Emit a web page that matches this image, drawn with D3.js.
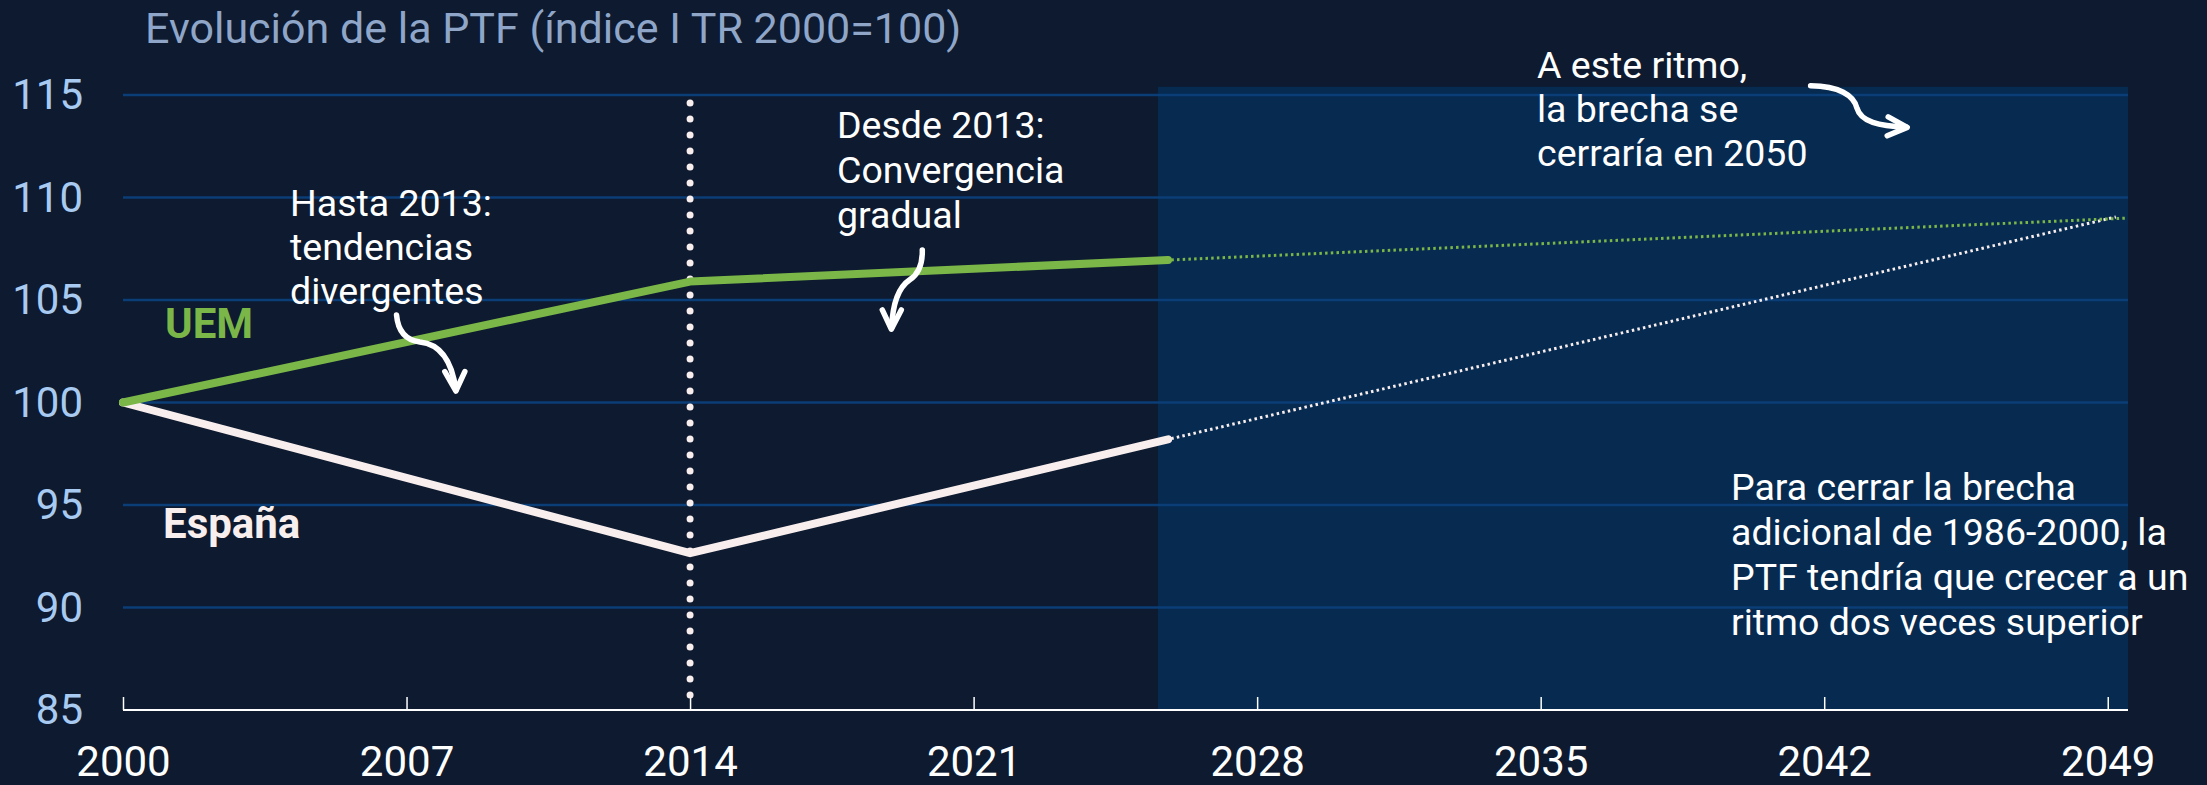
<!DOCTYPE html>
<html>
<head>
<meta charset="utf-8">
<script src="https://cdn.jsdelivr.net/npm/d3@7"></script>
<style>
  html, body { margin: 0; padding: 0; background: #0d1a2f; }
  svg { display: block; font-family: Roboto, "Noto Sans", sans-serif; }
</style>
</head>
<body>
<svg id="chart" width="2207" height="785"></svg>
<script>
// Observed series (year, index I TR 2000 = 100)
const uemYears = [2000, 2014, 2025.8];
const uemValues = [100, 105.9, 106.95];
const espYears = [2000, 2014, 2025.8];
const espValues = [100, 92.65, 98.2];

// Projections at the current pace
const uemProjYears = [2025.8, 2049.5];
const uemProjValues = [106.95, 109.0];
const espProjYears = [2025.8, 2049.2];
const espProjValues = [98.2, 109.05];

// Axes
const xTicks = [2000, 2007, 2014, 2021, 2028, 2035, 2042, 2049];
const yTicks = [85, 90, 95, 100, 105, 110, 115];
const breakYear = 2014;
const projectionStart = 2025.55;

const title = "Evolución de la PTF (índice I TR 2000=100)";

const svg = d3.select("#chart");
const W = 2207, H = 785;

const x = d3.scaleLinear().domain([2000, 2049.5]).range([123, 2128]);
const y = d3.scaleLinear().domain([85, 115]).range([710, 95]);

const C = {
  bg: "#0d1a2f",
  shade: "#062a50",
  grid: "#0b3e77",
  green: "#7ab648",
  white: "#f8eeee",
  title: "#8fa6c8",
  ytick: "#a8caf0"
};

svg.append("rect").attr("width", W).attr("height", H).attr("fill", C.bg);

// Projection period background
svg.append("rect")
  .attr("x", x(projectionStart))
  .attr("y", y(115.4))
  .attr("width", x(2049.5) - x(projectionStart))
  .attr("height", y(85) - y(115.4))
  .attr("fill", C.shade);

// Horizontal gridlines
svg.append("g")
  .selectAll("line")
  .data(yTicks.filter(d => d > 85))
  .join("line")
  .attr("x1", x(2000)).attr("x2", x(2049.5))
  .attr("y1", d => y(d)).attr("y2", d => y(d))
  .attr("stroke", C.grid).attr("stroke-width", 2.5);

// Y axis labels
const yAxis = d3.axisLeft(y).tickValues(yTicks).tickSize(0).tickPadding(0);
const gy = svg.append("g").attr("transform", `translate(${x(2000) - 40},0)`).call(yAxis);
gy.select(".domain").remove();
gy.selectAll("text")
  .attr("fill", C.ytick)
  .attr("font-size", 42)
  .attr("font-family", "Roboto")
  .attr("dy", "0.33em");

// X axis
const xAxis = d3.axisBottom(x).tickValues(xTicks).tickFormat(d3.format("d")).tickSize(0);
const gx = svg.append("g").attr("transform", `translate(0,${y(85)})`).call(xAxis);
gx.select(".domain").remove();
gx.selectAll("text")
  .attr("fill", "#ffffff")
  .attr("font-size", 42)
  .attr("font-family", "Roboto")
  .attr("y", 66)
  .attr("dy", 0);
gx.append("line")
  .attr("x1", x(2000)).attr("x2", x(2049.5))
  .attr("stroke", "#ffffff").attr("stroke-width", 2.2);
gx.selectAll(".tick").append("line")
  .attr("y1", 0).attr("y2", -13)
  .attr("stroke", "#ffffff").attr("stroke-width", 1.5);

// Break marker
svg.append("line")
  .attr("x1", x(breakYear)).attr("x2", x(breakYear))
  .attr("y1", y(115)).attr("y2", y(85))
  .attr("stroke", C.white)
  .attr("stroke-width", 7)
  .attr("stroke-linecap", "round")
  .attr("stroke-dasharray", "0 16")
  .attr("stroke-dashoffset", -8);

// Lines
const line = d3.line().x(d => x(d[0])).y(d => y(d[1]));
const zip = (a, b) => a.map((v, i) => [v, b[i]]);

svg.append("path")
  .attr("d", line(zip(espProjYears, espProjValues)))
  .attr("fill", "none").attr("stroke", C.white)
  .attr("stroke-width", 3).attr("stroke-dasharray", "2.5 3.2")
  .attr("stroke-dashoffset", -9);
svg.append("path")
  .attr("d", line(zip(uemProjYears, uemProjValues)))
  .attr("fill", "none").attr("stroke", C.green)
  .attr("stroke-width", 3).attr("stroke-dasharray", "2.5 3.2")
  .attr("stroke-dashoffset", -9);

svg.append("path")
  .attr("d", line(zip(espYears, espValues)))
  .attr("fill", "none").attr("stroke", C.white)
  .attr("stroke-width", 8).attr("stroke-linecap", "round").attr("stroke-linejoin", "round");
svg.append("path")
  .attr("d", line(zip(uemYears, uemValues)))
  .attr("fill", "none").attr("stroke", C.green)
  .attr("stroke-width", 8).attr("stroke-linecap", "round").attr("stroke-linejoin", "round");

// Title
svg.append("text")
  .attr("x", 145).attr("y", 43)
  .attr("fill", C.title).attr("font-size", 43)
  .text(title);

// Series labels
svg.append("text").attr("x", 165).attr("y", 338)
  .attr("fill", C.green).attr("font-size", 42).attr("font-weight", 700).text("UEM");
svg.append("text").attr("x", 163).attr("y", 538)
  .attr("fill", C.white).attr("font-size", 42).attr("font-weight", 700).text("España");

// Annotations
function multiline(px, py, lines, lh) {
  const t = svg.append("text").attr("x", px).attr("y", py)
    .attr("fill", "#ffffff").attr("font-size", 37.5);
  lines.forEach((s, i) => t.append("tspan").attr("x", px).attr("dy", i ? lh : 0).text(s));
}
multiline(290, 216, ["Hasta 2013:", "tendencias", "divergentes"], 44);
multiline(837, 138, ["Desde 2013:", "Convergencia", "gradual"], 45);
multiline(1537, 78, ["A este ritmo,", "la brecha se", "cerraría en 2050"], 44);
multiline(1731, 500, ["Para cerrar la brecha", "adicional de 1986-2000, la",
  "PTF tendría que crecer a un", "ritmo dos veces superior"], 45);

// Curved arrows, anchored to chart positions
function arrow(ax, ay, body, head) {
  const g = svg.append("g").attr("transform", `translate(${x(ax)},${y(ay)})`);
  g.append("path").attr("d", body)
    .attr("fill", "none").attr("stroke", "#ffffff").attr("stroke-width", 5.5)
    .attr("stroke-linecap", "round");
  g.append("path").attr("d", head)
    .attr("fill", "none").attr("stroke", "#ffffff").attr("stroke-width", 5.5)
    .attr("stroke-linecap", "round").attr("stroke-linejoin", "round");
}
arrow(2007, 103,
  "M-10,-26 C-8.7,-11 -1.7,-1 13.3,1 C33.3,3 45.3,19 49.3,49",
  "M38.3,30.6 L49.3,50 L58.3,30.6");
arrow(2019, 106,
  "M29.7,-29.6 C30,-14.6 25,-4.6 17,0.4 C5,8.4 0,25.4 -1,48.4",
  "M-10.3,30.4 L-1.3,49.7 L8.7,30.4");
arrow(2043, 114,
  "M-54.1,-29.7 C-25.8,-29.4 -10.8,-20.4 -7.8,-7.4 C-3.8,6.6 14.2,10.6 41.2,11.6",
  "M23.5,1.3 L42.5,11.9 L22.5,20.3");
</script>
</body>
</html>
